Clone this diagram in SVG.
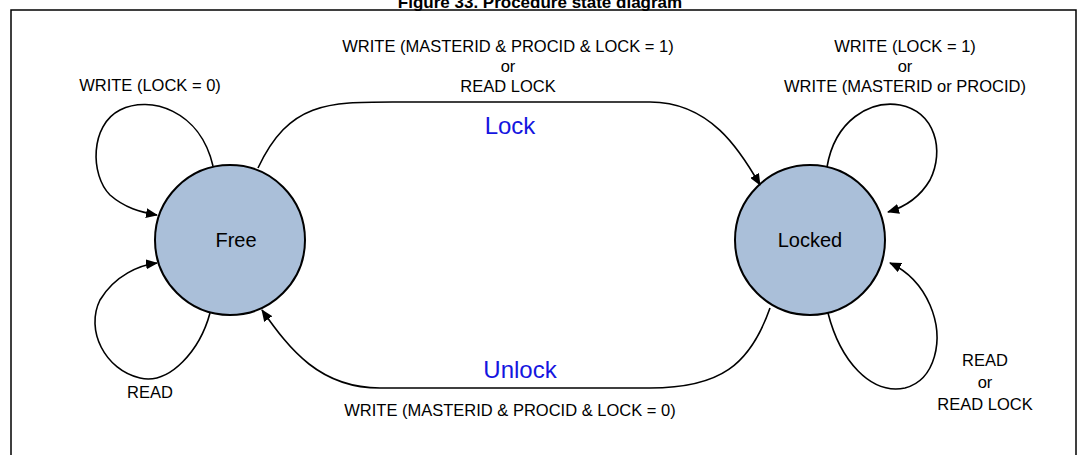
<svg xmlns="http://www.w3.org/2000/svg" width="1080" height="455" viewBox="0 0 1080 455">
<style>
text{font-family:"Liberation Sans",Arial,sans-serif;fill:#000;text-anchor:middle}
.l{font-size:16.5px}
.b{font-size:24px;fill:#1515e0}
.n{font-size:20px}
.c{fill:#aabfd9;stroke:#000;stroke-width:2}
.e{fill:none;stroke:#000;stroke-width:1.6;marker-end:url(#a)}
</style>
<defs><marker id="a" markerWidth="12" markerHeight="10" refX="11" refY="5" orient="auto" markerUnits="userSpaceOnUse"><path d="M0,0 L12,5 L0,10 z" fill="#000"/></marker></defs>
<rect width="1080" height="455" fill="#fff"/>
<text x="540" y="8" style="font-size:17px;font-weight:bold">Figure 33. Procedure state diagram</text>
<rect x="11" y="10" width="1065" height="460" fill="none" stroke="#000" stroke-width="1.5"/>
<g id="free"><circle class="c" cx="230" cy="240" r="75"/><text class="n" x="236" y="247">Free</text></g>
<g id="locked"><circle class="c" cx="810" cy="240" r="75"/><text class="n" x="810" y="247">Locked</text></g>
<g id="connectors">
<path class="e" d="M213,166 C200,110 150,95 120,110 C90,125 90,175 110,195 C125,208 140,212 157,215"/>
<path class="e" d="M210,313 C200,350 170,385 140,378 C105,370 85,330 100,300 C115,275 140,265 157,263"/>
<path class="e" d="M258,168 C290,100 330,102 400,102 L650,102 C710,102 740,150 760,185"/>
<path class="e" d="M770,308 C750,365 720,388 650,388 L380,388 C320,388 290,350 262,310"/>
<path class="e" d="M827,167 C835,120 870,100 900,105 C935,112 945,150 930,180 C920,197 905,207 888,212"/>
<path class="e" d="M828,313 C840,360 870,395 905,388 C935,380 945,340 930,305 C920,282 905,270 890,263"/>
</g>
<g id="labels">
<text class="l" x="150" y="91">WRITE (LOCK = 0)</text>
<text class="l" x="508" y="52">WRITE (MASTERID &amp; PROCID &amp; LOCK = 1)</text>
<text class="l" x="508" y="72">or</text>
<text class="l" x="508" y="92">READ LOCK</text>
<text class="b" x="510" y="134">Lock</text>
<text class="l" x="905" y="52">WRITE (LOCK = 1)</text>
<text class="l" x="905" y="72">or</text>
<text class="l" x="905" y="92">WRITE (MASTERID or PROCID)</text>
<text class="l" x="150" y="398">READ</text>
<text class="b" x="520" y="378">Unlock</text>
<text class="l" x="510" y="416">WRITE (MASTERID &amp;  PROCID &amp; LOCK = 0)</text>
<text class="l" x="985" y="366">READ</text>
<text class="l" x="985" y="388">or</text>
<text class="l" x="985" y="410">READ LOCK</text>
</g>
</svg>
